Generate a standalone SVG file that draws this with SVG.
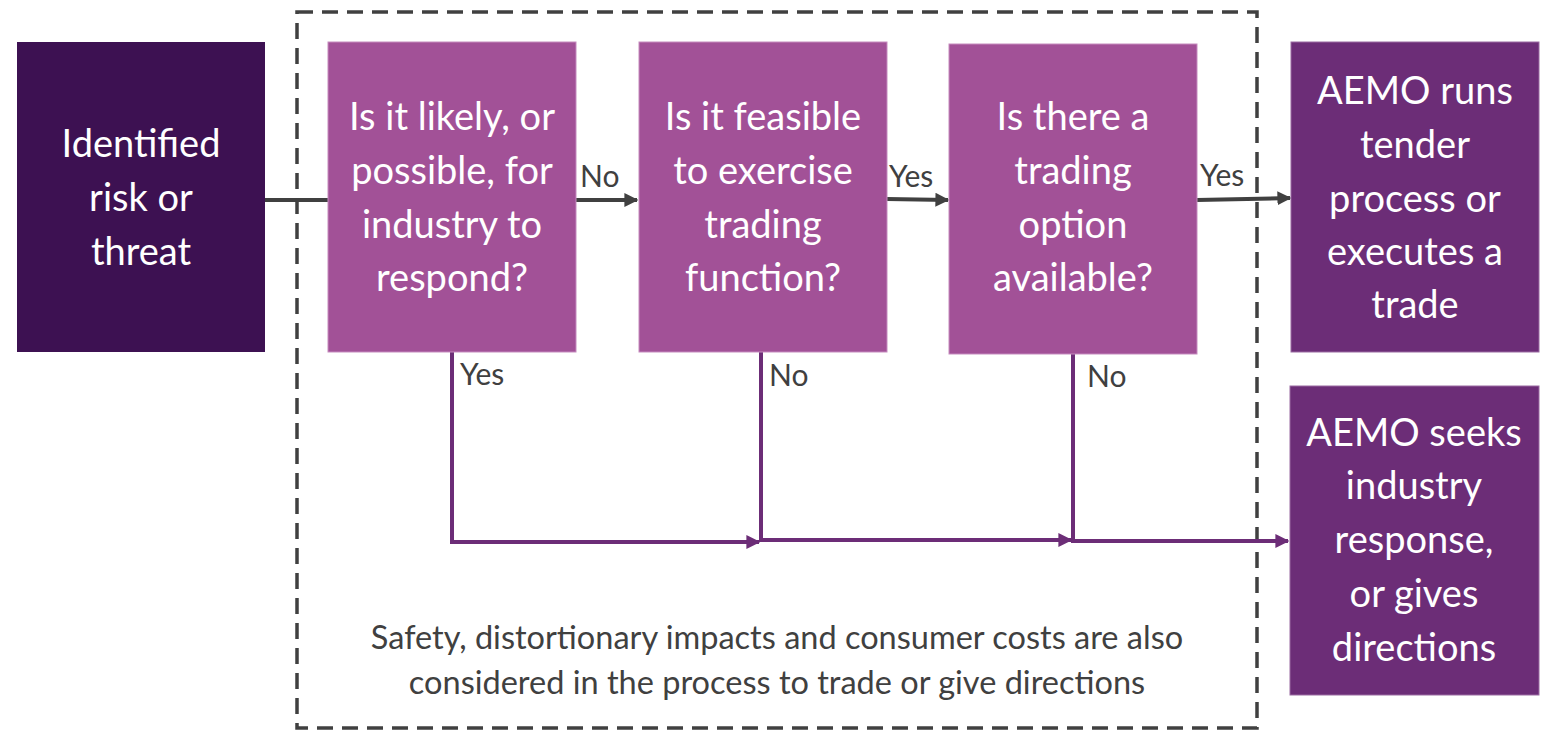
<svg xmlns="http://www.w3.org/2000/svg" width="1548" height="731" viewBox="0 0 1548 731">
  <defs>
    <style>
      .box-text { font-family: Lato, "Open Sans", "Liberation Sans", sans-serif; font-size: 38px; fill: #ffffff; text-anchor: middle; }
      .label { font-family: Lato, "Open Sans", "Liberation Sans", sans-serif; font-size: 30px; fill: #404040; }
      .note { font-family: Lato, "Open Sans", "Liberation Sans", sans-serif; font-size: 32.5px; fill: #404040; text-anchor: middle; }
      .gray { stroke: #404040; stroke-width: 4; fill: none; }
      .purple { stroke: #6C2D77; stroke-width: 4; fill: none; }
      .start { fill: #3D1152; }
      .question { fill: #A25197; stroke: #C58BBE; stroke-width: 1; }
      .outcome { fill: #6C2D77; stroke: #9A6BA2; stroke-width: 1; }
    </style>
    <marker id="arrow-gray" viewBox="0 0 10 10" refX="9" refY="5" markerWidth="3.5" markerHeight="4.5" orient="auto" markerUnits="strokeWidth">
      <path d="M0,0 L10,5 L0,10 Z" fill="#404040"/>
    </marker>
    <marker id="arrow-purple" viewBox="0 0 10 10" refX="9" refY="5" markerWidth="3.5" markerHeight="4.5" orient="auto" markerUnits="strokeWidth">
      <path d="M0,0 L10,5 L0,10 Z" fill="#6C2D77"/>
    </marker>
  </defs>

  <rect width="1548" height="731" fill="#ffffff"/>

  <!-- dashed boundary around the decision steps -->
  <rect id="decision-boundary" x="297" y="12" width="960" height="716" fill="none" stroke="#404040" stroke-width="3.5" stroke-dasharray="16 9"/>

  <g id="connectors">
    <line class="gray" x1="265" y1="200" x2="328" y2="200"/>
    <line class="gray" x1="576" y1="200" x2="637" y2="200" marker-end="url(#arrow-gray)"/>
    <line class="gray" x1="887" y1="199" x2="948" y2="200" marker-end="url(#arrow-gray)"/>
    <line class="gray" x1="1197" y1="200" x2="1290" y2="198" marker-end="url(#arrow-gray)"/>
    <polyline class="purple" points="452,352 452,542 759,542" marker-end="url(#arrow-purple)"/>
    <polyline class="purple" points="761,352 761,540 1071,540" marker-end="url(#arrow-purple)"/>
    <polyline class="purple" points="1073,354 1073,541 1288,541" marker-end="url(#arrow-purple)"/>
    <text class="label" x="580" y="187">No</text>
    <text class="label" x="889" y="187">Yes</text>
    <text class="label" x="1200" y="186">Yes</text>
    <text class="label" x="460" y="385">Yes</text>
    <text class="label" x="769" y="386">No</text>
    <text class="label" x="1087" y="387">No</text>
  </g>

  <g id="identified-risk">
    <rect class="start" x="17" y="42" width="248" height="310"/>
    <text class="box-text"><tspan x="141" y="157">Identified</tspan><tspan x="141" y="211">risk or</tspan><tspan x="141" y="265">threat</tspan></text>
  </g>

  <g id="industry-respond">
    <rect class="question" x="328" y="42" width="248" height="310"/>
    <text class="box-text"><tspan x="452" y="130">Is it likely, or</tspan><tspan x="452" y="184">possible, for</tspan><tspan x="452" y="238">industry to</tspan><tspan x="452" y="291">respond?</tspan></text>
  </g>

  <g id="trading-feasible">
    <rect class="question" x="639" y="42" width="248" height="310"/>
    <text class="box-text"><tspan x="763" y="130">Is it feasible</tspan><tspan x="763" y="184">to exercise</tspan><tspan x="763" y="238">trading</tspan><tspan x="763" y="291">function?</tspan></text>
  </g>

  <g id="trading-option">
    <rect class="question" x="949" y="44" width="248" height="310"/>
    <text class="box-text"><tspan x="1073" y="130">Is there a</tspan><tspan x="1073" y="184">trading</tspan><tspan x="1073" y="238">option</tspan><tspan x="1073" y="291">available?</tspan></text>
  </g>

  <g id="aemo-trade">
    <rect class="outcome" x="1291" y="42" width="248" height="310"/>
    <text class="box-text"><tspan x="1415" y="104">AEMO runs</tspan><tspan x="1415" y="158">tender</tspan><tspan x="1415" y="212">process or</tspan><tspan x="1415" y="265">executes a</tspan><tspan x="1415" y="318">trade</tspan></text>
  </g>

  <g id="aemo-directions">
    <rect class="outcome" x="1290" y="386" width="249" height="309"/>
    <text class="box-text"><tspan x="1414" y="446">AEMO seeks</tspan><tspan x="1414" y="499">industry</tspan><tspan x="1414" y="553">response,</tspan><tspan x="1414" y="607">or gives</tspan><tspan x="1414" y="661">directions</tspan></text>
  </g>

  <g id="process-note">
    <text class="note"><tspan x="777" y="649">Safety, distortionary impacts and consumer costs are also</tspan><tspan x="777" y="694">considered in the process to trade or give directions</tspan></text>
  </g>
</svg>
